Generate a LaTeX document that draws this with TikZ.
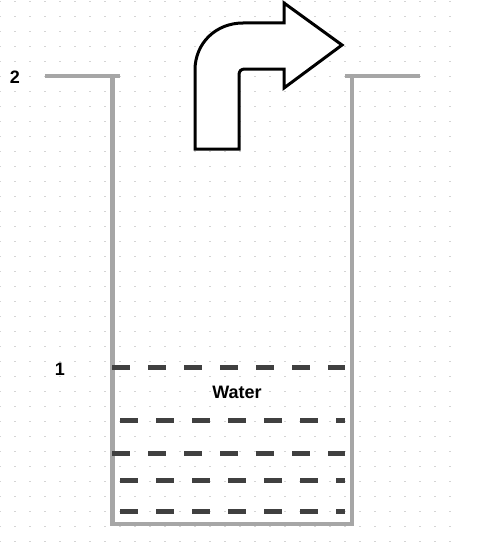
\documentclass[tikz,border=0pt]{standalone}
\usepackage{fontspec}
\setmainfont{Liberation Sans}
\definecolor{wallgray}{HTML}{A6A6A6}
\definecolor{watergray}{HTML}{404040}
\definecolor{dotgray}{HTML}{D4D4D4}
\begin{document}
\begin{tikzpicture}[x=1pt,y=-1pt,
  wall/.style={draw=wallgray,line width=4.5pt,line cap=butt,line join=miter},
  waterline/.style={draw=watergray,line width=5pt,dash pattern=on 18pt off 18pt},
  lbl/.style={font=\fontsize{18}{20}\selectfont\bfseries,text=black,inner sep=0pt},
  bent/.style={draw=black,fill=white,line width=3pt,line join=miter}]
\useasboundingbox (0,0) rectangle (493,551);
\fill[white] (0,0) rectangle (493,551);
% grid dots
\foreach \i in {0,...,30}{
  \foreach \j in {0,...,36}{
    \fill[dotgray] ({15*\i-0.7},{1.7+15*\j-0.7}) rectangle ++(1.4,1.4);
  }
}
% container
\draw[wall] (112.5,76) -- (112.5,524) -- (352,524) -- (352,76);
\draw[wall] (45,76) -- (120,76);
\draw[wall] (345,76) -- (420,76);
% water lines
\draw[waterline] (112,367.7) -- (345,367.7);
\draw[waterline] (120,420.7) -- (345,420.7);
\draw[waterline] (112,453) -- (345,453);
\draw[waterline] (120,480.7) -- (345,480.7);
\draw[waterline] (120,511) -- (345,511);
% bent arrow
\draw[bent] (195,149) -- (195,70) .. controls (195,43) and (216,23) .. (243,23)
  -- (284,23) -- (284,3) -- (342,45) -- (284,88) -- (284,69) -- (245,69)
  .. controls (241,69) and (239,71) .. (239,75) -- (239,149) -- cycle;
% labels
\node[lbl] (water) at (237,392) {Water};
\node[lbl] (one) at (60,369) {1};
\node[lbl] (two) at (15,77) {2};
\end{tikzpicture}
\end{document}
